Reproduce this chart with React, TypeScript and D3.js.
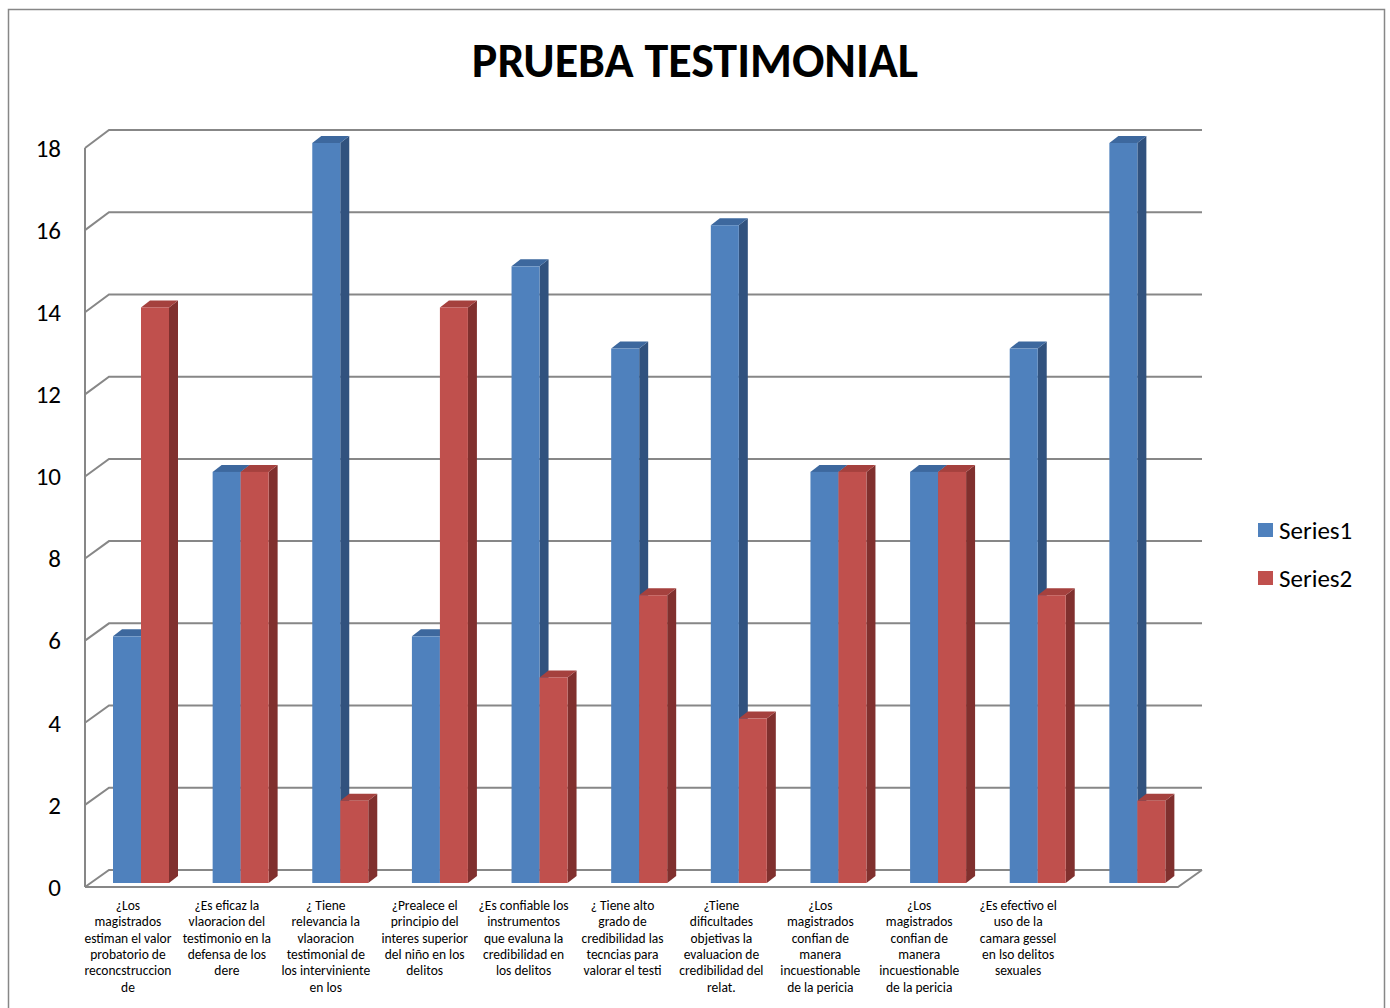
import React from 'react'
import * as d3 from 'd3'

const categories = ['c1', 'c2', 'c3', 'c4', 'c5', 'c6', 'c7', 'c8', 'c9', 'c10', 'c11']
const categoryLabels: string[][] = [
    ['¿Los', 'magistrados', 'estiman el valor', 'probatorio de', 'reconcstruccion', 'de'],
    ['¿Es eficaz la', 'vlaoracion del', 'testimonio en la', 'defensa de los', 'dere'],
    ['¿ Tiene', 'relevancia la', 'vlaoracion', 'testimonial de', 'los interviniente', 'en los'],
    ['¿Prealece el', 'principio del', 'interes superior', 'del niño en los', 'delitos'],
    ['¿Es confiable los', 'instrumentos', 'que evaluna la', 'credibilidad en', 'los delitos'],
    ['¿ Tiene alto', 'grado de', 'credibilidad las', 'tecncias para', 'valorar el testi'],
    ['¿Tiene', 'dificultades', 'objetivas la', 'evaluacion de', 'credibilidad del', 'relat.'],
    ['¿Los', 'magistrados', 'confian de', 'manera', 'incuestionable', 'de la pericia'],
    ['¿Los', 'magistrados', 'confian de', 'manera', 'incuestionable', 'de la pericia'],
    ['¿Es efectivo el', 'uso de la', 'camara gessel', 'en lso delitos', 'sexuales'],
    [],
]
const seriesNames = ['Series1', 'Series2']
const series1 = [6, 10, 18, 6, 15, 13, 16, 10, 10, 13, 18]
const series2 = [14, 10, 2, 14, 5, 7, 4, 10, 10, 7, 2]
const yTicks = [0, 2, 4, 6, 8, 10, 12, 14, 16, 18]

const FONT = 'Carlito, Lato, "Liberation Sans", sans-serif'
const GRID = '#878787'
const faceColors = [
    { front: '#4F81BD', top: '#3D689E', side: '#31527E' },
    { front: '#C0504D', top: '#A5413E', side: '#80302E' },
]

// 3d-ish box geometry
const frontX0 = 85
const frontX1 = 1178
const depthX = 24
const depthY = 17
const barDX = 9
const barDY = 7

const yFront = d3.scaleLinear().domain([0, 18]).range([887, 148])
const yBack = d3.scaleLinear().domain([0, 18]).range([870, 130])
const yBar = d3.scaleLinear().domain([0, 18]).range([883, 143])

const xCat = d3.scaleBand<string>().domain(categories).range([90, 1186]).padding(0)
const xSeries = d3.scaleBand<string>().domain(seriesNames).range([0, 56]).padding(0)
// labels sit on a slightly narrower band than the bars
const xLabel = d3.scaleBand<string>().domain(categories).range([78.5, 1166.5]).padding(0)

export default function App() {
    const data = [series1, series2]
    const baseY = yBar(0)

    const bars: React.ReactNode[] = []
    categories.forEach((c, i) => {
        seriesNames.forEach((s, j) => {
            const v = data[j][i]
            const x0 = (xCat(c) || 0) + 23 + (xSeries(s) || 0)
            const w = xSeries.bandwidth()
            const yt = yBar(v)
            const col = faceColors[j]
            const top = [[x0, yt], [x0 + barDX, yt - barDY], [x0 + w + barDX, yt - barDY], [x0 + w, yt]]
            const side = [[x0 + w, yt], [x0 + w + barDX, yt - barDY], [x0 + w + barDX, baseY - barDY], [x0 + w, baseY]]
            bars.push(
                <g key={c + s}>
                    <polygon points={side.map(p => p.join(',')).join(' ')} fill={col.side} />
                    <polygon points={top.map(p => p.join(',')).join(' ')} fill={col.top} />
                    <rect x={x0} y={yt} width={w} height={baseY - yt} fill={col.front} />
                </g>
            )
        })
    })

    return (
        <svg width={1390} height={1008} style={{ position: 'absolute', left: 0, top: 0, background: '#fff' }}>
            <rect x={8.5} y={9.5} width={1376} height={1010} fill="#fff" stroke={GRID} strokeWidth={1.5} />

            <text x={695} y={77} textAnchor="middle" fontFamily={FONT} fontWeight="bold" fontSize={48} fill="#000">
                PRUEBA TESTIMONIAL
            </text>

            {/* back wall gridlines */}
            {yTicks.map(t => (
                <polyline
                    key={'g' + t}
                    points={`${frontX0},${yFront(t)} ${frontX0 + depthX},${yBack(t)} ${frontX1 + depthX},${yBack(t)}`}
                    fill="none"
                    stroke={GRID}
                    strokeWidth={2}
                />
            ))}
            {/* floor front edge */}
            <polyline
                points={`${frontX0},${yFront(0)} ${frontX1},${yFront(0)} ${frontX1 + depthX},${yBack(0)}`}
                fill="none"
                stroke={GRID}
                strokeWidth={2}
            />
            {/* y axis */}
            <line x1={frontX0} x2={frontX0} y1={yFront(18)} y2={yFront(0)} stroke={GRID} strokeWidth={2} />
            {yTicks.map(t => (
                <text key={'t' + t} x={61} y={yFront(t)} dy="0.35em" textAnchor="end" fontFamily={FONT} fontSize={25} fill="#000">
                    {t}
                </text>
            ))}

            {bars}

            {/* category labels */}
            {categories.map((c, i) => {
                const cx = (xLabel(c) || 0) + xLabel.bandwidth() / 2
                return (
                    <text key={'l' + c} x={cx} y={910} textAnchor="middle" fontFamily={FONT} fontSize={13.5} fill="#000">
                        {categoryLabels[i].map((line, k) => (
                            <tspan key={k} x={cx} dy={k === 0 ? 0 : 16.3}>{line}</tspan>
                        ))}
                    </text>
                )
            })}

            {/* legend */}
            {seriesNames.map((s, j) => (
                <g key={'lg' + s} transform={`translate(1258,${523 + j * 48})`}>
                    <rect width={15} height={14} fill={faceColors[j].front} />
                    <text x={21} y={7} dy="0.35em" fontFamily={FONT} fontSize={25} fill="#000">{s}</text>
                </g>
            ))}
        </svg>
    )
}
